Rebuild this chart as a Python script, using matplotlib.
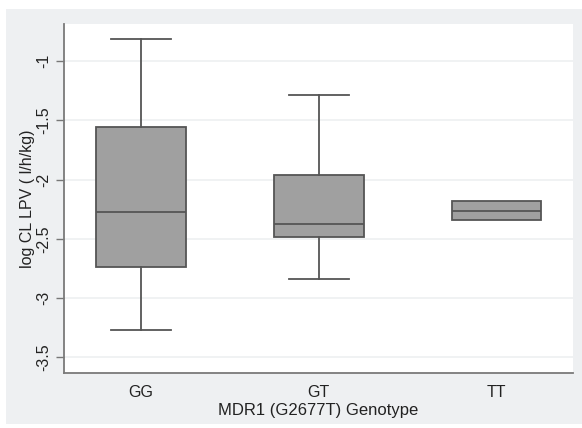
import matplotlib
matplotlib.use("Agg")
import matplotlib.pyplot as plt
from matplotlib.patches import Rectangle

plt.rcParams["font.family"] = ["Liberation Sans", "DejaVu Sans"]

categories = ["GG", "GT", "TT"]
whislo = [-3.27, -2.84, None]
q1 = [-2.735, -2.487, -2.341]
med = [-2.273, -2.372, -2.262]
q3 = [-1.556, -1.958, -2.178]
whishi = [-0.815, -1.284, None]
yticks = [-1, -1.5, -2, -2.5, -3, -3.5]
xlabel = "MDR1 (G2677T) Genotype"
ylabel = "log CL LPV ( l/h/kg)"

W, H = 582, 428
fig = plt.figure(figsize=(W / 100, H / 100), dpi=100)
fig.patch.set_facecolor("white")
fig.patches.append(Rectangle((6 / W, 1 - 424 / H), (582 - 6) / W, (424 - 9) / H,
                             transform=fig.transFigure, facecolor="#eef0f2",
                             edgecolor="none", zorder=-10))
ax = fig.add_axes([64 / W, 1 - 372.5 / H, (573 - 64) / W, (372.5 - 24) / H])
ax.set_facecolor("white")
ax.set_zorder(1)

stats = []
for i, c in enumerate(categories):
    lo = whislo[i] if whislo[i] is not None else q1[i]
    hi = whishi[i] if whishi[i] is not None else q3[i]
    stats.append(dict(label=c, q1=q1[i], med=med[i], q3=q3[i], whislo=lo, whishi=hi, fliers=[]))

edge = "#555555"
bp = ax.bxp(stats, positions=[1, 2, 3], widths=0.505, patch_artist=True,
            showfliers=False,
            boxprops=dict(facecolor="#a0a0a0", edgecolor=edge, linewidth=1.3),
            medianprops=dict(color=edge, linewidth=1.3),
            whiskerprops=dict(color=edge, linewidth=1.3),
            capprops=dict(color=edge, linewidth=1.3),
            capwidths=0.34)
for i in range(3):
    if whislo[i] is None:
        bp["caps"][2 * i].set_visible(False)
        bp["caps"][2 * i + 1].set_visible(False)
        bp["whiskers"][2 * i].set_visible(False)
        bp["whiskers"][2 * i + 1].set_visible(False)

ax.set_xlim(0.567, 3.43)
ax.set_ylim(-3.628, -0.688)
ax.set_yticks(yticks)
ax.set_yticklabels([("%g" % v) for v in yticks], rotation=90, va="center",
                   fontsize=11.5, color="#222222")
ax.set_xticks([1, 2, 3])
ax.set_xticklabels(categories, fontsize=11.5, color="#222222")
ax.tick_params(axis="x", length=0, pad=9)
ax.tick_params(axis="y", length=6, width=1, color="#777777", pad=3)
ax.grid(axis="y", color="#eef0f1", linewidth=1.2)
ax.set_axisbelow(True)
for s in ["top", "right"]:
    ax.spines[s].set_visible(False)
for s in ["left", "bottom"]:
    ax.spines[s].set_color("#7a7a7a")
    ax.spines[s].set_linewidth(1.3)
ax.set_xlabel(xlabel, fontsize=12, color="#222222", labelpad=2)
ax.set_ylabel(ylabel, fontsize=11.5, color="#222222", labelpad=1)

fig.savefig("out.png", dpi=100, facecolor=fig.get_facecolor())
